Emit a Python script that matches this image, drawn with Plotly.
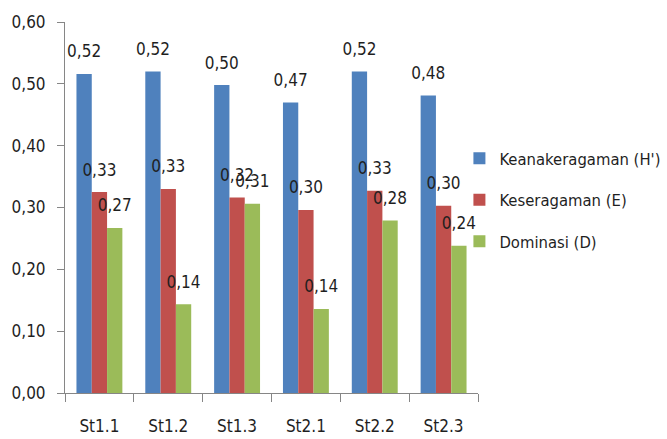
import plotly.graph_objects as go

categories = ["St1.1", "St1.2", "St1.3", "St2.1", "St2.2", "St2.3"]
series_names = ["Keanakeragaman (H')", "Keseragaman (E)", "Dominasi (D)"]
h_values = [0.516, 0.520, 0.498, 0.470, 0.520, 0.481]
e_values = [0.325, 0.330, 0.316, 0.296, 0.327, 0.303]
d_values = [0.267, 0.1435, 0.306, 0.136, 0.279, 0.238]
y_ticks = [0.0, 0.1, 0.2, 0.3, 0.4, 0.5, 0.6]

colors = ["#4F81BD", "#C0504D", "#9BBB59"]
FONT = "DejaVu Sans Condensed, DejaVu Sans, sans-serif"
TXT = "#1f1f1f"

fig = go.Figure()
all_vals = [h_values, e_values, d_values]
for i, (name, vals) in enumerate(zip(series_names, all_vals)):
    fig.add_trace(go.Bar(
        x=categories, y=vals, name=name, marker_color=colors[i],
        marker_line_width=0, offsetgroup=str(i), legendgroup=str(i),
    ))
for i, vals in enumerate(all_vals):
    fig.add_trace(go.Scatter(
        x=categories, y=vals, mode="markers+text", offsetgroup=str(i),
        marker=dict(size=18, opacity=0), texttemplate="%{y:.2f}",
        textposition="top center", textfont=dict(family=FONT, size=17, color=TXT),
        showlegend=False, hoverinfo="skip", cliponaxis=False,
    ))

fig.update_layout(
    width=667, height=439,
    margin=dict(l=65, r=189, t=22, b=46, autoexpand=False),
    paper_bgcolor="white", plot_bgcolor="white",
    barmode="group", bargap=0.333, bargroupgap=0,
    scattermode="group", scattergap=0.333,
    separators=",.",
    font=dict(family=FONT, size=17, color=TXT),
    legend=dict(x=0.955, y=0.52, xanchor="left", yanchor="middle",
                traceorder="grouped", tracegroupgap=17,
                itemwidth=30,
                font=dict(family=FONT, size=16.5, color=TXT),
                bgcolor="rgba(0,0,0,0)"),
    showlegend=True,
)
fig.update_xaxes(
    type="category", showline=True, linecolor="#868686", linewidth=1,
    ticks="outside", tickson="boundaries", ticklen=8, tickcolor="#868686",
    showgrid=False, ticklabelstandoff=18, zeroline=False,
)
fig.update_yaxes(
    range=[0, 0.6], tickvals=y_ticks, tickformat=".2f",
    showline=True, linecolor="#868686", linewidth=1,
    ticks="outside", ticklen=7, tickcolor="#868686",
    showgrid=False, zeroline=False, ticklabelstandoff=8,
)

fig.write_html("out.html")
